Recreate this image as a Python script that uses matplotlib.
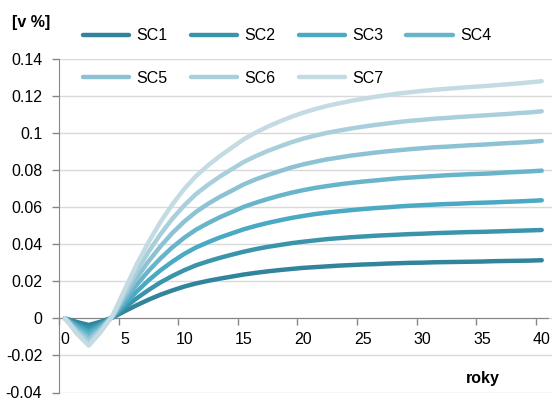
import matplotlib
matplotlib.use("Agg")
import matplotlib.pyplot as plt
import numpy as np

years = list(range(0, 41))

sc1 = [0, -0.0020, -0.0036, -0.0018, 0.0004, 0.0038, 0.0070, 0.0100, 0.0127, 0.0150,
       0.0171, 0.0188, 0.0202, 0.0214, 0.0225, 0.0236, 0.0245, 0.0253, 0.0260, 0.0266,
       0.0272, 0.0276, 0.0280, 0.0284, 0.0287, 0.0290, 0.0292, 0.0295, 0.0297, 0.0299,
       0.0300, 0.0302, 0.0303, 0.0304, 0.0305, 0.0306, 0.0308, 0.0309, 0.0310, 0.0311,
       0.0313]
sc2 = [0, -0.0031, -0.0055, -0.0028, 0.0006, 0.0057, 0.0107, 0.0152, 0.0193, 0.0228,
       0.0259, 0.0286, 0.0307, 0.0326, 0.0343, 0.0359, 0.0373, 0.0385, 0.0395, 0.0405,
       0.0413, 0.0420, 0.0427, 0.0432, 0.0437, 0.0441, 0.0445, 0.0448, 0.0451, 0.0454,
       0.0456, 0.0459, 0.0461, 0.0463, 0.0465, 0.0466, 0.0468, 0.0470, 0.0472, 0.0474,
       0.0476]
sc3 = [0, -0.0041, -0.0073, -0.0037, 0.0008, 0.0076, 0.0143, 0.0204, 0.0258, 0.0305,
       0.0347, 0.0382, 0.0410, 0.0436, 0.0458, 0.0480, 0.0498, 0.0514, 0.0528, 0.0541,
       0.0552, 0.0562, 0.0570, 0.0577, 0.0583, 0.0589, 0.0594, 0.0598, 0.0603, 0.0607,
       0.0610, 0.0613, 0.0616, 0.0618, 0.0621, 0.0623, 0.0625, 0.0628, 0.0630, 0.0633,
       0.0636]
sc4 = [0, -0.0052, -0.0092, -0.0046, 0.0010, 0.0096, 0.0179, 0.0255, 0.0322, 0.0382,
       0.0434, 0.0478, 0.0513, 0.0545, 0.0573, 0.0601, 0.0623, 0.0643, 0.0661, 0.0677,
       0.0691, 0.0703, 0.0713, 0.0722, 0.0730, 0.0737, 0.0743, 0.0749, 0.0755, 0.0759,
       0.0763, 0.0767, 0.0771, 0.0774, 0.0777, 0.0779, 0.0782, 0.0786, 0.0789, 0.0792,
       0.0796]
sc5 = [0, -0.0062, -0.0110, -0.0055, 0.0011, 0.0115, 0.0215, 0.0306, 0.0387, 0.0459,
       0.0521, 0.0574, 0.0617, 0.0655, 0.0688, 0.0722, 0.0749, 0.0772, 0.0793, 0.0813,
       0.0830, 0.0844, 0.0857, 0.0867, 0.0877, 0.0885, 0.0893, 0.0900, 0.0906, 0.0912,
       0.0917, 0.0922, 0.0925, 0.0929, 0.0933, 0.0936, 0.0940, 0.0944, 0.0947, 0.0951,
       0.0956]
sc6 = [0, -0.0073, -0.0128, -0.0065, 0.0013, 0.0134, 0.0251, 0.0357, 0.0452, 0.0536,
       0.0608, 0.0670, 0.0720, 0.0764, 0.0804, 0.0843, 0.0874, 0.0902, 0.0926, 0.0949,
       0.0969, 0.0985, 0.1000, 0.1012, 0.1023, 0.1033, 0.1042, 0.1050, 0.1058, 0.1065,
       0.1070, 0.1076, 0.1080, 0.1085, 0.1089, 0.1093, 0.1097, 0.1101, 0.1106, 0.1110,
       0.1116]
sc7 = [0, -0.0083, -0.0147, -0.0074, 0.0015, 0.0153, 0.0288, 0.0409, 0.0518, 0.0613,
       0.0697, 0.0767, 0.0824, 0.0875, 0.0920, 0.0965, 0.1001, 0.1033, 0.1061, 0.1086,
       0.1109, 0.1128, 0.1145, 0.1159, 0.1172, 0.1183, 0.1194, 0.1203, 0.1212, 0.1219,
       0.1226, 0.1232, 0.1237, 0.1242, 0.1247, 0.1251, 0.1256, 0.1261, 0.1266, 0.1272,
       0.1278]

series_names = ["SC1", "SC2", "SC3", "SC4", "SC5", "SC6", "SC7"]
x_labels = ["0", "5", "10", "15", "20", "25", "30", "35", "40"]
y_labels = ["-0.04", "-0.02", "0", "0.02", "0.04", "0.06", "0.08", "0.1", "0.12", "0.14"]

plt.rcParams['font.family'] = ['Liberation Sans Narrow', 'Liberation Sans', 'DejaVu Sans']
plt.rcParams['font.size'] = 11.5

colors = ["#31849b", "#3b95aa", "#4aa9c3", "#68b4cb", "#8cc2d4", "#a9cfdc", "#c4dbe4"]

fig = plt.figure(figsize=(5.52, 4.01), dpi=100)
W, H = 552.0, 401.0
ax = fig.add_axes([59 / W, 1 - 392.5 / H, (552 - 59) / W, (392.5 - 58.6) / H])

all_series = [sc1, sc2, sc3, sc4, sc5, sc6, sc7]
lines = []
for vals, name, c in zip(all_series, series_names, colors):
    ln, = ax.plot(years, vals, color=c, linewidth=3.2, solid_capstyle='round',
                  solid_joinstyle='round', label=name, zorder=3)
    lines.append(ln)

ax.set_xlim(-0.5, 40.5 + 4.3 / 11.92)
ax.set_ylim(-0.04, 0.14)

yt = [float(v) for v in y_labels]
ax.set_yticks(yt)
ax.set_yticklabels(y_labels)
ax.yaxis.grid(True, color="#d9d9d9", linewidth=1.0, zorder=0)
ax.set_axisbelow(True)

# category axis: ticks between categories, labels on them
ax.set_xticks([-0.5 + 5 * i for i in range(9)])
ax.set_xticklabels([])
ax.set_xticks([int(s) for s in x_labels], minor=True)
ax.set_xticklabels(x_labels, minor=True)
ax.tick_params(axis='x', which='major', direction='out', length=5, color="#868686", width=1)
ax.tick_params(axis='x', which='minor', length=0, pad=10)
ax.tick_params(axis='y', direction='out', length=5, color="#868686", width=1, pad=7)

for s in ['top', 'right']:
    ax.spines[s].set_visible(False)
ax.spines['bottom'].set_position(('data', 0))
ax.spines['bottom'].set_bounds(-0.5, 40.5)
ax.spines['bottom'].set_color("#868686")
ax.spines['left'].set_color("#868686")
ax.spines['bottom'].set_zorder(2)

# legend rows read left to right: reorder for matplotlib's column filling
order = [0, 4, 1, 5, 2, 6, 3]
fig.legend([lines[i] for i in order], [series_names[i] for i in order],
           loc='upper left', bbox_to_anchor=(83 / W, 1 - 28.5 / H), ncol=4,
           frameon=False, borderpad=0, borderaxespad=0, handlelength=2.9,
           handletextpad=0.45, columnspacing=1.45, labelspacing=1.7)

fig.text(12 / W, 1 - 23 / H, "[v %]", fontweight='bold', ha='left', va='center')
fig.text(466 / W, 1 - 378 / H, "roky", fontweight='bold', ha='left', va='center')

fig.savefig("out.png", dpi=100)
